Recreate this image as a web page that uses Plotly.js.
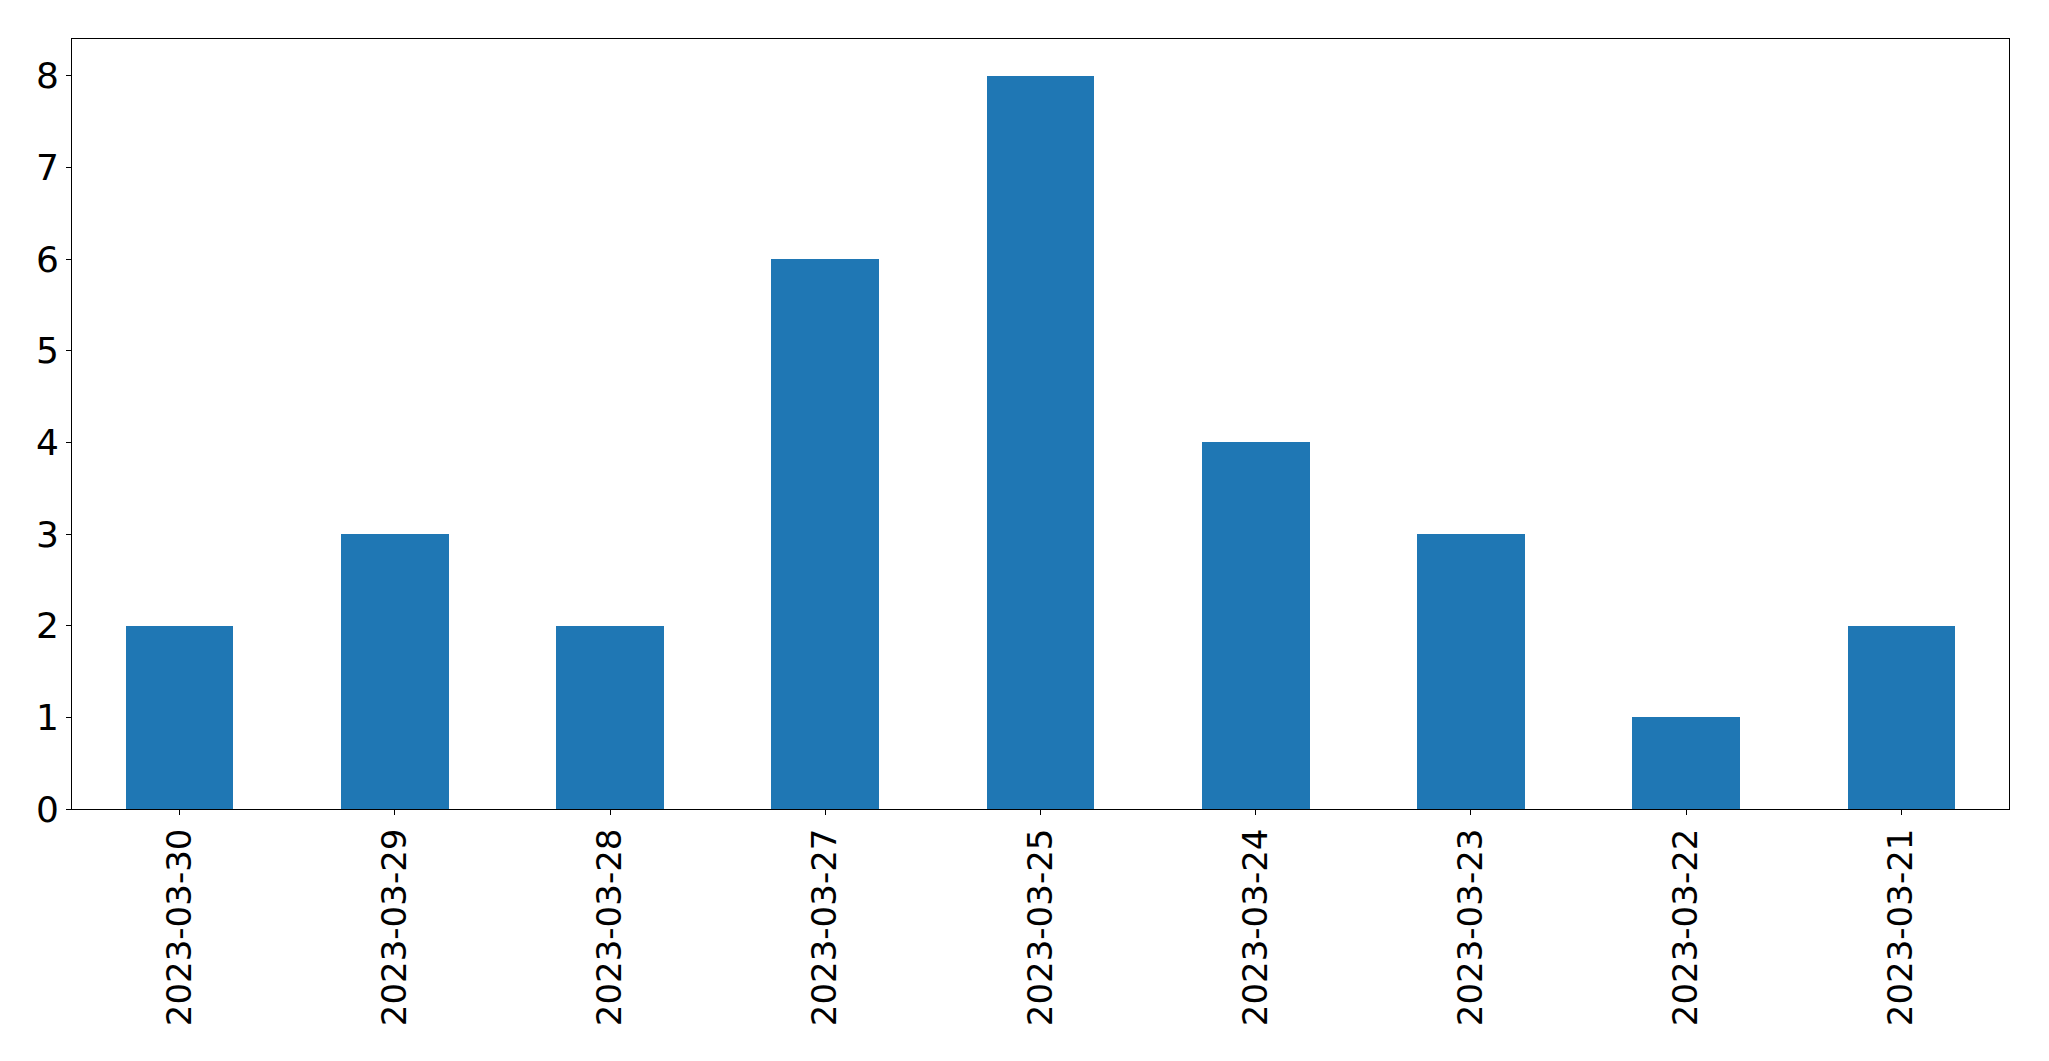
<!DOCTYPE html>
<html>
<head>
<meta charset="utf-8">
<script src="https://cdn.plot.ly/plotly-3.0.1.min.js"></script>
<style>html,body{margin:0;padding:0;background:#fff;}#chart{width:2049px;height:1061px;}</style>
</head>
<body>
<div id="chart"></div>
<script>
const dates = ["2023-03-30","2023-03-29","2023-03-28","2023-03-27","2023-03-25","2023-03-24","2023-03-23","2023-03-22","2023-03-21"];
const counts = [2,3,2,6,8,4,3,1,2];
const yTicks = [0,1,2,3,4,5,6,7,8];

const trace = {
  type: 'bar',
  x: dates,
  y: counts,
  width: 0.5,
  marker: {color: '#1f77b4', line: {width: 0}},
  hoverinfo: 'x+y'
};

const xFont = {family: 'DejaVu Sans, sans-serif', size: 34, color: '#000'};
const yFont = {family: 'DejaVu Sans, sans-serif', size: 36, color: '#000'};

const layout = {
  width: 2049,
  height: 1061,
  margin: {l: 72, r: 40, t: 39, b: 252, pad: 0},
  paper_bgcolor: '#fff',
  plot_bgcolor: '#fff',
  showlegend: false,
  bargap: 0,
  xaxis: {
    type: 'category',
    range: [-0.5, 8.5],
    tickangle: -90,
    tickfont: xFont,
    ticks: 'outside',
    ticklen: 5,
    tickwidth: 1,
    tickcolor: '#000',
    showline: true,
    linecolor: '#000',
    linewidth: 1,
    mirror: true,
    showgrid: false,
    zeroline: false,
    fixedrange: true
  },
  yaxis: {
    range: [0, 8.4],
    tickmode: 'array',
    tickvals: yTicks,
    ticktext: yTicks.map(String),
    tickfont: yFont,
    ticks: 'outside',
    ticklen: 5,
    tickwidth: 1,
    tickcolor: '#000',
    showline: true,
    linecolor: '#000',
    linewidth: 1,
    mirror: true,
    showgrid: false,
    zeroline: false,
    fixedrange: true
  }
};

Plotly.newPlot('chart', [trace], layout, {displayModeBar: false, staticPlot: true});
</script>
</body>
</html>
